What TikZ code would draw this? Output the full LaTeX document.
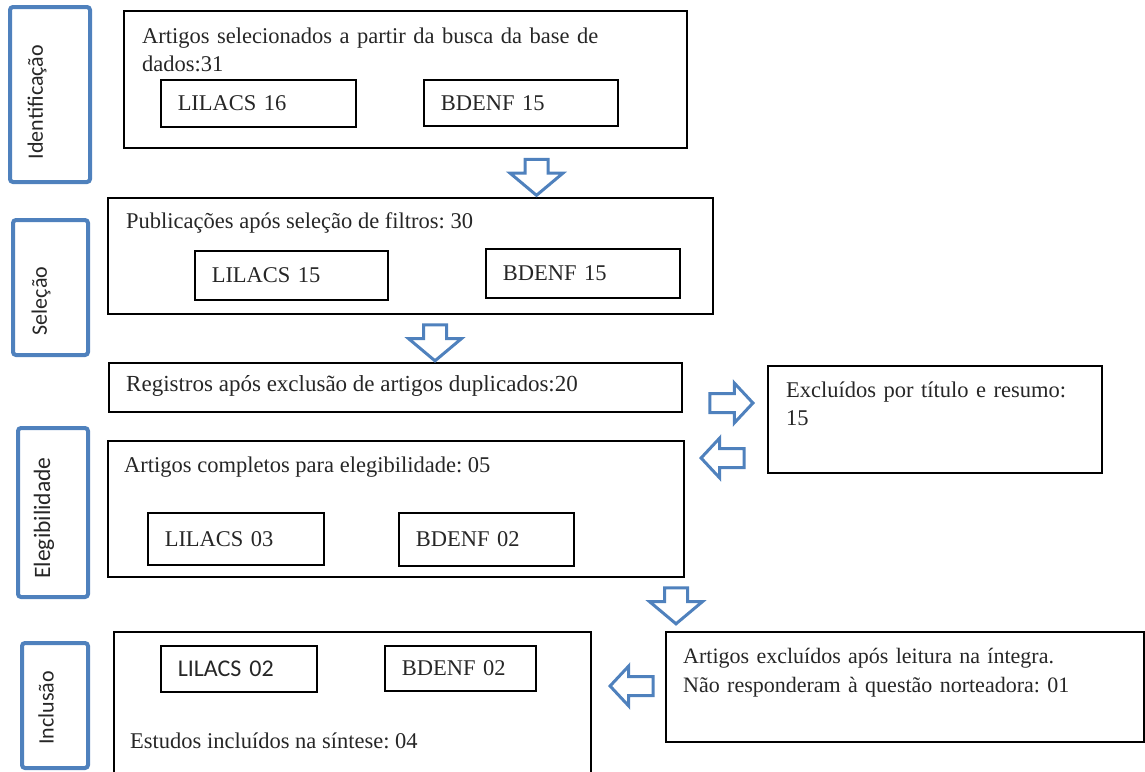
\documentclass[tikz,border=0pt]{standalone}
\usepackage{fontspec}
\setmainfont{Liberation Serif}
\newfontfamily\calfont{Carlito}
\usetikzlibrary{shapes.arrows}
\definecolor{stageblue}{RGB}{79,129,189}
\frenchspacing

\begin{document}
\begin{tikzpicture}[x=1pt,y=-1pt,
    every node/.style={font=\fontsize{22.5}{28}\selectfont, text=black!85},
    bigbox/.style={draw=black, line width=1.6pt, anchor=north west, inner sep=0pt},
    dbbox/.style={draw=black, line width=1.5pt, anchor=north west,
      inner xsep=17pt, inner ysep=0pt, align=left},
    stagebox/.style={draw=stageblue, line width=4pt, rounded corners=3pt},
    stagelabel/.style={rotate=90, font=\calfont\fontsize{22}{26}\selectfont},
    boxtext/.style={anchor=base west, inner sep=0pt, align=left},
    downarrow/.style={single arrow, draw=stageblue, line width=3pt, fill=white,
      inner xsep=0pt, inner ysep=10pt, minimum height=36pt,
      single arrow head extend=15pt, single arrow tip angle=100, rotate=-90},
    sidearrow/.style={single arrow, draw=stageblue, line width=3pt, fill=white,
      inner xsep=0pt, inner ysep=8pt, minimum height=43pt,
      single arrow head extend=10.5pt, single arrow tip angle=94}]
  \useasboundingbox (0,0) rectangle (1145,771);

  % stages on the left
  \node[stagebox, minimum width=80pt, minimum height=175pt] (ident) at (50,94.5) {};
  \node[stagelabel] at (37,102) {Identificação};
  \node[stagebox, minimum width=75pt, minimum height=135pt] (selec) at (50.5,287.5) {};
  \node[stagelabel] at (41,301) {Seleção};
  \node[stagebox, minimum width=70pt, minimum height=169pt] (elig) at (53,512.5) {};
  \node[stagelabel, font=\calfont\fontsize{23.5}{26}\selectfont] at (44,518) {Elegibilidade};
  \node[stagebox, minimum width=66pt, minimum height=125pt] (incl) at (55,705.5) {};
  \node[stagelabel] at (46,708) {Inclusão};

  % identificacao
  \node[bigbox, minimum width=563pt, minimum height=137pt] (busca) at (123,10) {};
  \node[boxtext, text width=520pt] (buscatxt) at (142,43)
    {Artigos selecionados a partir da busca da base de\\dados:31};
  \node[dbbox, text width=161pt, minimum height=47pt] (lilbusca) at (160,79) {LILACS 16};
  \node[dbbox, text width=160pt, minimum height=46pt] (bdbusca) at (423,79) {BDENF 15};

  % selecao
  \node[bigbox, minimum width=605pt, minimum height=116pt] (filtro) at (107,197) {};
  \node[boxtext] (filtrotxt) at (126,228) {Publicações após seleção de filtros: 30};
  \node[dbbox, text width=159pt, minimum height=49pt] (lilfiltro) at (194,250) {LILACS 15};
  \node[dbbox, text width=160pt, minimum height=49pt] (bdfiltro) at (485,248) {BDENF 15};

  \node[bigbox, minimum width=573pt, minimum height=49pt] (dupl) at (108,362) {};
  \node[boxtext, font=\fontsize{23}{28}\selectfont] (dupltxt) at (126,391)
    {Registros após exclusão de artigos duplicados:20};

  \node[bigbox, minimum width=334pt, minimum height=107pt] (resumo) at (767,365) {};
  \node[boxtext, text width=310pt] (resumotxt) at (786,397) {Excluídos por título e resumo:\\15};

  % elegibilidade
  \node[bigbox, minimum width=576pt, minimum height=136pt] (compl) at (107,440) {};
  \node[boxtext] (compltxt) at (124,472) {Artigos completos para elegibilidade: 05};
  \node[dbbox, text width=142pt, minimum height=52pt] (lilcompl) at (147,512) {LILACS 03};
  \node[dbbox, text width=141pt, minimum height=53pt] (bdcompl) at (398,512) {BDENF 02};

  \node[bigbox, minimum width=478pt, minimum height=110pt] (integra) at (665,631) {};
  \node[boxtext, text width=455pt, font=\fontsize{22}{29}\selectfont] (integratxt) at (683,663)
    {Artigos excluídos após leitura na íntegra.\\Não responderam à questão norteadora: 01};

  % inclusao
  \node[bigbox, minimum width=477pt, minimum height=160pt] (sintese) at (113,631) {};
  \node[dbbox, text width=122pt, minimum height=46pt, font=\calfont\fontsize{24}{26}\selectfont]
    (lilsint) at (160,645) {LILACS 02};
  \node[dbbox, text width=117pt, minimum height=45pt] (bdsint) at (384,645) {BDENF 02};
  \node[boxtext] (sintesetxt) at (130,748) {Estudos incluídos na síntese: 04};

  % block arrows
  \node[downarrow] (a1) at (536.5,172.5) {};
  \node[downarrow] (a2) at (435,338) {};
  \node[sidearrow] (a3) at (727,403) {};
  \node[sidearrow, rotate=180] (a4) at (727,458) {};
  \node[downarrow] (a5) at (676,601) {};
  \node[sidearrow, rotate=180] (a6) at (636,686) {};
\end{tikzpicture}
\end{document}
